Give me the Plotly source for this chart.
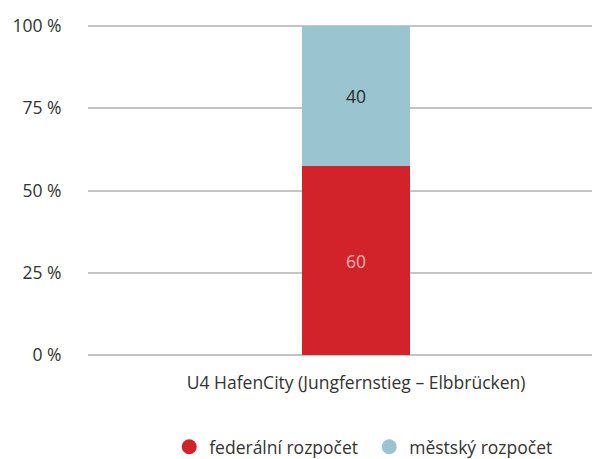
import plotly.graph_objects as go

categories = ["U4 HafenCity (Jungfernstieg – Elbbrücken)"]
federal_share = [57.3]
city_share = [42.7]
federal_labels = ["60"]
city_labels = ["40"]
y_ticks = [0, 25, 50, 75, 100]
y_tick_labels = ["0 %", "25 %", "50 %", "75 %", "100 %"]

FONT = "Open Sans, Noto Sans, sans-serif"
RED = "#d2232a"
BLUE = "#99c4d0"
FS = 17.5

fig = go.Figure()
fig.add_trace(go.Bar(
    x=categories, y=federal_share, name="federální rozpočet",
    marker=dict(color=RED, line=dict(width=0)),
    text=federal_labels, textposition="inside", insidetextanchor="middle",
    textfont=dict(color="#f2b3b6", size=FS, family=FONT),
    width=0.2, hoverinfo="skip", showlegend=False,
))
fig.add_trace(go.Bar(
    x=categories, y=city_share, name="městský rozpočet",
    marker=dict(color=BLUE, line=dict(width=0)),
    text=city_labels, textposition="inside", insidetextanchor="middle",
    textfont=dict(color="#2b2b2b", size=FS, family=FONT),
    width=0.2, hoverinfo="skip", showlegend=False,
))
# legend entries with round markers
for name, color in [("federální rozpočet", RED), ("městský rozpočet", BLUE)]:
    fig.add_trace(go.Scatter(
        x=[None], y=[None], mode="markers", name=name,
        marker=dict(symbol="circle", size=15, color=color),
        hoverinfo="skip",
    ))

fig.update_layout(
    barmode="stack",
    width=592, height=459,
    margin=dict(l=88, r=0, t=24, b=102, autoexpand=False),
    paper_bgcolor="white", plot_bgcolor="white",
    font=dict(family=FONT, size=FS, color="#333333"),
    showlegend=True,
    legend=dict(orientation="h", x=0.558, xref="paper", xanchor="center",
                y=-0.27, yanchor="middle", font=dict(size=FS, color="#333333"),
                traceorder="normal", itemwidth=30, entrywidth=155),
    xaxis=dict(range=[-0.5, 0.44], showgrid=False, zeroline=False,
               showline=False, ticks="outside", ticklen=10,
               tickcolor="rgba(0,0,0,0)", tickfont=dict(size=FS)),
    yaxis=dict(range=[-0.6, 100.6], tickvals=y_ticks, ticktext=y_tick_labels,
               showgrid=True, gridcolor="#c4c4c4", gridwidth=2,
               zeroline=False, showline=False, ticks="outside", ticklen=22,
               tickcolor="rgba(0,0,0,0)", tickfont=dict(size=FS)),
)

fig.write_html("out.html", config={"displayModeBar": False},
               post_script="document.body.style.margin='0px';")
